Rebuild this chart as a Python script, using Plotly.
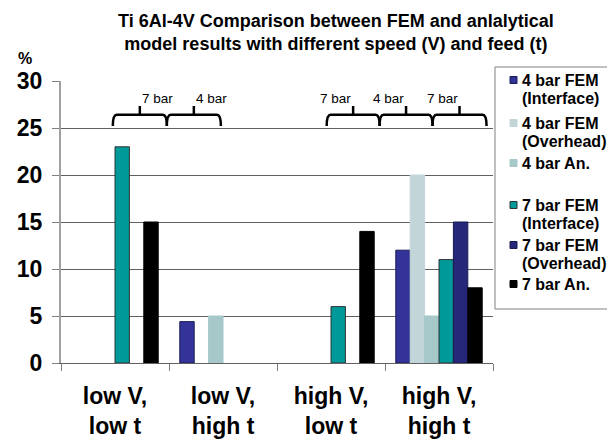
import plotly.graph_objects as go

categories = ["low V,<br>low t", "low V,<br>high t", "high V,<br>low t", "high V,<br>high t"]
series_names = ["4 bar FEM<br>(Interface)", "4 bar FEM<br>(Overhead)", "4 bar An.",
                "7 bar FEM<br>(Interface)", "7 bar FEM<br>(Overhead)", "7 bar An."]
fem4_interface = [None, 4.4, None, 12]
fem4_overhead = [None, None, None, 20]
an4 = [None, 5, None, 5]
fem7_interface = [23, None, 6, 11]
fem7_overhead = [None, None, None, 15]
an7 = [15, None, 14, 8]
y_ticks = [0, 5, 10, 15, 20, 25, 30]

# bracket annotations: (start category index, end category index, label)
brackets = [(-0.02, 0.48, "7 bar"), (0.48, 0.98, "4 bar"),
            (1.96, 2.45, "7 bar"), (2.45, 2.94, "4 bar"), (2.94, 3.44, "7 bar")]

values = [fem4_interface, fem4_overhead, an4, fem7_interface, fem7_overhead, an7]
colors = ["#333399", "#C2D5D9", "#A7C8C9", "#009999", "#27277A", "#000000"]
line_colors = ["#1C1C55", "#C2D5D9", "#A7C8C9", "#333333", "#1A1A50", "#000000"]

FONT = "Liberation Sans, Arial, sans-serif"
W, H = 607, 439
L, R, T, B = 61, 114, 81, 76
PW, PH = W - L - R, H - T - B

def px_x(x):
    return (x - L) / PW

def px_y(y):
    return (H - B - y) / PH

fig = go.Figure()
for name, vals, c, lc in zip(series_names, values, colors, line_colors):
    fig.add_trace(go.Bar(
        x=categories, y=vals, name=name, showlegend=False,
        marker=dict(color=c, line=dict(color=lc, width=1)),
    ))

def c2p(idx):
    return (idx + 0.5) / len(categories)

shapes = []
annotations = []
ylow, ymid, ytip = 25.2, 26.4, 27.35
dx = 0.009
for a, b, lab in brackets:
    x0, x1 = c2p(a), c2p(b)
    xc = (x0 + x1) / 2
    path = (f"M {x0},{ylow} Q {x0},{ymid} {x0+dx},{ymid} L {x1-dx},{ymid} "
            f"Q {x1},{ymid} {x1},{ylow} M {xc},{ymid} L {xc},{ytip}")
    shapes.append(dict(type="path", xref="paper", yref="y", path=path,
                       line=dict(color="black", width=2.5)))
    annotations.append(dict(x=xc, y=28.15, xref="paper", yref="y", text=lab,
                            showarrow=False, font=dict(family=FONT, size=13.5, color="black")))

# "%" unit label
annotations.append(dict(x=px_x(16), y=px_y(48), xref="paper", yref="paper", text="%",
                        showarrow=False, font=dict(family=FONT, size=16, color="black", weight="bold")))

# title
annotations.append(dict(x=px_x(336), y=px_y(32.5), xref="paper", yref="paper",
                        xanchor="center", yanchor="middle",
                        text="Ti 6Al-4V Comparison between FEM and anlalytical<br>model results with different speed (V) and feed (t)",
                        showarrow=False, font=dict(family=FONT, size=18, color="black", weight="bold")))

# legend (drawn manually to match the original compact layout)
shapes.append(dict(type="rect", xref="paper", yref="paper",
                   x0=px_x(495), x1=px_x(640), y0=px_y(309), y1=px_y(67),
                   line=dict(color="#808080", width=1), fillcolor="white", layer="above"))
entry_y = [80, 123, 163, 205, 245, 284]
for name, c, lc, ey in zip(series_names, colors, line_colors, entry_y):
    shapes.append(dict(type="rect", xref="paper", yref="paper",
                       x0=px_x(510), x1=px_x(517), y0=px_y(ey + 3.5), y1=px_y(ey - 3.5),
                       fillcolor=c, line=dict(color=lc if c not in ("#C2D5D9", "#A7C8C9") else c, width=1),
                       layer="above"))
    for i, line in enumerate(name.split("<br>")):
        annotations.append(dict(x=px_x(520), y=px_y(ey + i * 18.5), xref="paper", yref="paper",
                                xanchor="left", yanchor="middle", text=line, showarrow=False,
                                font=dict(family=FONT, size=16, color="black", weight="bold")))

fig.update_layout(
    width=W, height=H,
    margin=dict(l=L, r=R, t=T, b=B, autoexpand=False),
    paper_bgcolor="white", plot_bgcolor="white",
    barmode="group", bargap=0.2, bargroupgap=0,
    showlegend=False,
    font=dict(family=FONT, color="black"),
    xaxis=dict(showline=True, linecolor="#606060", linewidth=1,
               ticks="outside", ticklen=7, tickcolor="#808080", tickson="boundaries",
               tickfont=dict(family=FONT, size=23, color="black", weight="bold"),
               showgrid=False, ticklabelstandoff=12),
    yaxis=dict(range=[0, 30], tickvals=y_ticks, showline=True, linecolor="#A0A0A0", linewidth=2,
               ticks="outside", ticklen=7, tickcolor="#808080",
               tickfont=dict(family=FONT, size=23, color="black", weight="bold"),
               showgrid=True, gridcolor="#606060", gridwidth=1, zeroline=False,
               ticklabelstandoff=5),
    shapes=shapes, annotations=annotations,
)

fig.write_html("out.html")
